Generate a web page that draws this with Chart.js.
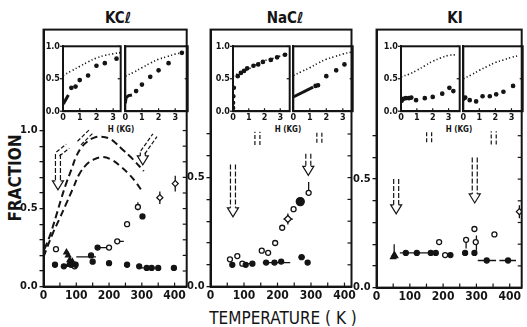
<!DOCTYPE html>
<html>
<head>
<meta charset="utf-8">
<script src="https://cdn.jsdelivr.net/npm/chart.js@4.4.1/dist/chart.umd.min.js"></script>
<style>
  body { margin: 0; background: #fff; }
  #lienzo { position: relative; width: 527px; height: 327px; overflow: hidden; background: #fff; }
  #lienzo canvas { position: absolute; }
  .rotulo {
    position: absolute; color: #141414; white-space: nowrap;
    font-family: 'DejaVu Sans Condensed', 'Liberation Sans Narrow', 'DejaVu Sans', sans-serif;
    transform: translate(-50%, -50%);
  }
  .titulo { font-size: 15px; font-weight: bold; }
  .campo { font-size: 8px; font-weight: bold; }
</style>
</head>
<body>
<div id="lienzo">
  <div class="rotulo titulo" style="left:118px; top:18px;">KCℓ</div>
  <div class="rotulo titulo" style="left:285px; top:18px;">NaCℓ</div>
  <div class="rotulo titulo" style="left:455px; top:18px;">KI</div>
  <div class="rotulo" style="left:15px; top:178px; font-size:17px; font-weight:bold; transform: translate(-50%,-50%) rotate(-90deg);">FRACTION</div>
  <div class="rotulo" style="left:283px; top:318px; font-size:17px;">TEMPERATURE ( K )</div>
  <div class="rotulo campo" style="left:121px; top:129px;">H (KG)</div>
  <div class="rotulo campo" style="left:288px; top:129px;">H (KG)</div>
  <div class="rotulo campo" style="left:459px; top:129px;">H (KG)</div>
</div>
<script>
const FUENTE = "'DejaVu Sans Condensed', 'Liberation Sans Narrow', 'DejaVu Sans', sans-serif";
const NEGRO = '#141414';

// ---- KCl: fracción vs temperatura ----
const kclCurvaSup = [[3,0.24],[20,0.33],[38,0.45],[55,0.57],[69,0.66],[85,0.75],[99,0.83],[115,0.89],[134,0.93],[155,0.955],[175,0.96],[200,0.95],[220,0.92],[240,0.88],[271,0.82],[306,0.74]];
const kclCurvaInf = [[0,0.19],[28,0.34],[50,0.44],[69,0.53],[90,0.63],[109,0.72],[130,0.78],[149,0.81],[180,0.83],[210,0.81],[235,0.77],[261,0.72],[285,0.66],[301,0.61]];
const kclLlenos = [[35,0.14],[62,0.13],[84,0.14],[98,0.14],[145,0.20],[150,0.16],[165,0.25],[200,0.15],[255,0.14],[292,0.13],[302,0.45],[315,0.12],[330,0.12],[350,0.12],[398,0.12]];
const kclAbiertos = [[38,0.24],[95,0.13],[200,0.25],[225,0.29],[255,0.40],[288,0.51]];
const kclTriangulos = [[70,0.22],[75,0.20],[80,0.17],[76,0.14],[88,0.16]];
const kclRombos = [[355,0.57],[402,0.66]];
const kclBarrasH = [[100,160,0.19],[160,200,0.25],[215,245,0.29],[295,340,0.12]];
const kclBarrasV = [[98,0.12,0.16],[288,0.49,0.54],[355,0.53,0.61],[402,0.61,0.71]];
const kclFlechas = [{ t: 44, arriba: 0.85, punta: 0.62 }, { t: 303, arriba: 0.86, punta: 0.78 }];
const kclConectores = [[44,0.85,74,0.90],[109,0.92,148,1.00],[303,0.86,340,0.97]];

// ---- NaCl ----
const naclLlenos = [[65,0.10],[105,0.10],[125,0.105],[166,0.11],[191,0.11],[211,0.115],[272,0.135],[290,0.11]];
const naclGrandes = [[268,0.39]];
const naclAbiertos = [[58,0.125],[80,0.14],[95,0.105],[153,0.165],[172,0.155],[193,0.20],[214,0.27],[248,0.355],[293,0.43]];
const naclRombos = [[231,0.31]];
const naclBarrasH = [[88,128,0.105],[156,238,0.11],[262,282,0.135],[218,246,0.31]];
const naclBarrasV = [[293,0.43,0.48],[231,0.285,0.335]];
const naclFlechas = [{ t: 67, arriba: 0.56, punta: 0.32 }, { t: 292, arriba: 0.61, punta: 0.51 }];
const naclConectores = [[140,0.65,140,0.71],[325,0.66,325,0.71]];

// ---- KI ----
const kiLlenos = [[88,0.16],[121,0.16],[163,0.16],[178,0.16],[222,0.15],[266,0.16],[294,0.16],[331,0.125],[395,0.125]];
const kiTriangulos = [[50,0.14],[53,0.15],[56,0.145]];
const kiAbiertos = [[206,0.15],[188,0.21],[269,0.22],[298,0.21],[294,0.27],[354,0.245]];
const kiRombos = [[429,0.35]];
const kiBarrasH = [[70,180,0.16],[304,359,0.125],[369,419,0.125]];
const kiBarrasV = [[53,0.15,0.20],[269,0.18,0.23],[300,0.17,0.24],[429,0.32,0.38]];
const kiFlechas = [{ t: 59, arriba: 0.50, punta: 0.34 }, { t: 295, arriba: 0.60, punta: 0.39 }];
const kiConectores = [[158,0.67,158,0.72],[352,0.66,352,0.72]];

// ---- Recuadros: fracción vs campo H (KG) ----
const campoTeoria = [0, 0.5, 1, 1.5, 2, 2.5, 3, 3.5];
const kclTeoriaIzq = [0.55, 0.62, 0.69, 0.76, 0.82, 0.86, 0.885, 0.905];
const kclTeoriaDer = [0.54, 0.60, 0.67, 0.74, 0.80, 0.84, 0.88, 0.90];
const naclTeoriaIzq = [0.54, 0.60, 0.65, 0.72, 0.78, 0.81, 0.85, 0.88];
const naclTeoriaDer = [0.55, 0.61, 0.67, 0.74, 0.80, 0.84, 0.88, 0.91];
const kiTeoriaIzq = [0.53, 0.57, 0.63, 0.70, 0.77, 0.82, 0.86, 0.87];
const kiTeoriaDer = [0.50, 0.56, 0.63, 0.69, 0.75, 0.79, 0.83, 0.86];

const kclPuntosIzq = [[0.5,0.36],[0.75,0.38],[1.0,0.48],[1.5,0.55],[2.0,0.70],[2.5,0.74],[3.2,0.81]];
const kclTramoIzq = [[0.02,0.11],[0.32,0.25]];
const kclPuntosDer = [[0.65,0.31],[1.0,0.41],[1.5,0.53],[2.0,0.63],[2.6,0.74],[3.4,0.90]];
const kclTramoDer = [[0.0,0.12],[0.05,0.21],[0.2,0.24],[0.4,0.25]];
const naclPuntosIzq = [[0,0.05],[0,0.13],[0.02,0.23],[0.05,0.36],[0.3,0.54],[0.5,0.59],[0.7,0.62],[0.9,0.66],[1.3,0.70],[1.6,0.72],[1.9,0.76],[2.4,0.79],[2.8,0.83],[3.3,0.87]];
const naclTramoDer = [[0.0,0.22],[1.2,0.37]];
const naclPuntosDer = [[1.35,0.39],[1.5,0.40],[2.0,0.54],[2.6,0.63],[3.1,0.72]];
const kiPuntosIzq = [[0.04,0.16],[0.15,0.19],[0.3,0.20],[0.5,0.20],[0.65,0.21],[0.95,0.17],[1.5,0.20],[2.0,0.22],[2.6,0.27],[3.05,0.36],[3.3,0.31]];
const kiPuntosDer = [[0.0,0.19],[0.12,0.21],[0.4,0.17],[0.8,0.15],[1.2,0.23],[1.65,0.23],[2.05,0.26],[2.5,0.30],[3.1,0.39]];

Chart.defaults.font.family = FUENTE;
Chart.defaults.color = NEGRO;

const aXY = pares => pares.map(p => ({ x: p[0], y: p[1] }));

function crearCanvas(ancho, alto) {
    const c = document.createElement('canvas');
    c.width = ancho;
    c.height = alto;
    document.getElementById('lienzo').appendChild(c);
    return c;
}

// Ajusta tamaño y posición del canvas para que el área del gráfico caiga en la caja
function encajar(chart, caja) {
    for (let i = 0; i < 3; i++) {
        const a = chart.chartArea;
        const dw = (caja.r - caja.l) - (a.right - a.left);
        const dh = (caja.b - caja.t) - (a.bottom - a.top);
        if (Math.abs(dw) < 0.5 && Math.abs(dh) < 0.5) break;
        chart.resize(Math.round(chart.width + dw), Math.round(chart.height + dh));
    }
    const a = chart.chartArea;
    const c = chart.canvas;
    c.style.width = chart.width + 'px';
    c.style.height = chart.height + 'px';
    c.style.left = Math.round(caja.l - a.left) + 'px';
    c.style.top = Math.round(caja.t - a.top) + 'px';
}

function linea(ctx, x1, y1, x2, y2) {
    ctx.beginPath();
    ctx.moveTo(x1, y1);
    ctx.lineTo(x2, y2);
    ctx.stroke();
}

// Marco completo, marcas interiores y (en los recuadros) rótulos del eje vertical
const marcoPlugin = {
    id: 'marco',
    afterDraw(chart, args, opts) {
        const { ctx, chartArea: a, scales } = chart;
        ctx.save();
        ctx.strokeStyle = NEGRO;
        ctx.fillStyle = NEGRO;
        ctx.lineWidth = opts.grosor || 2;
        ctx.strokeRect(a.left, a.top, a.right - a.left, a.bottom - a.top);
        ctx.lineWidth = 1.2;
        const largo = opts.largo || 4;
        scales.x.ticks.forEach(t => {
            const px = scales.x.getPixelForValue(t.value);
            linea(ctx, px, a.bottom, px, a.bottom - largo);
        });
        scales.y.ticks.forEach(t => {
            const py = scales.y.getPixelForValue(t.value);
            linea(ctx, a.right, py, a.right - largo, py);
        });
        if (opts.etiquetasY) {
            ctx.font = 'bold 9px ' + FUENTE;
            ctx.textAlign = 'right';
            ctx.textBaseline = 'middle';
            scales.y.ticks.forEach(t => {
                const py = scales.y.getPixelForValue(t.value);
                linea(ctx, a.left - 3, py, a.left, py);
                ctx.fillText(t.value.toFixed(1), a.left - 3, py);
            });
        }
        ctx.restore();
    }
};

// Flechas huecas con cuerpo doble y trazos de enlace hacia los recuadros
const flechasPlugin = {
    id: 'flechas',
    afterDatasetsDraw(chart, args, opts) {
        const { ctx, scales: { x: sx, y: sy } } = chart;
        const a = 2.5;
        ctx.save();
        ctx.strokeStyle = NEGRO;
        ctx.lineWidth = 1.2;
        (opts.flechas || []).forEach(f => {
            const x = sx.getPixelForValue(f.t);
            const yArriba = sy.getPixelForValue(f.arriba);
            const yPunta = sy.getPixelForValue(f.punta);
            const cabeza = Math.min(9, yPunta - yArriba);
            ctx.setLineDash([5, 2]);
            linea(ctx, x - a, yArriba, x - a, yPunta - cabeza);
            linea(ctx, x + a, yArriba, x + a, yPunta - cabeza);
            ctx.setLineDash([]);
            ctx.beginPath();
            ctx.moveTo(x - a, yPunta - cabeza);
            ctx.lineTo(x - a - 3, yPunta - cabeza);
            ctx.lineTo(x, yPunta);
            ctx.lineTo(x + a + 3, yPunta - cabeza);
            ctx.lineTo(x + a, yPunta - cabeza);
            ctx.stroke();
        });
        ctx.setLineDash([4, 2]);
        (opts.conectores || []).forEach(c => {
            const x1 = sx.getPixelForValue(c[0]), y1 = sy.getPixelForValue(c[1]);
            const x2 = sx.getPixelForValue(c[2]), y2 = sy.getPixelForValue(c[3]);
            const d = Math.hypot(x2 - x1, y2 - y1) || 1;
            const nx = -(y2 - y1) / d * a, ny = (x2 - x1) / d * a;
            linea(ctx, x1 + nx, y1 + ny, x2 + nx, y2 + ny);
            linea(ctx, x1 - nx, y1 - ny, x2 - nx, y2 - ny);
        });
        ctx.restore();
    }
};

// Conjuntos de datos reutilizables
function puntos(pares, estilo, relleno, radio) {
    return {
        type: 'scatter', data: aXY(pares), pointStyle: estilo, pointRadius: radio || 2.5,
        backgroundColor: relleno ? NEGRO : '#fff', borderColor: NEGRO, borderWidth: 1.3, order: 0
    };
}

function barras(horizontales, verticales) {
    const datos = [];
    horizontales.forEach(b => { datos.push({ x: b[0], y: b[2] }, { x: b[1], y: b[2] }, { x: b[1], y: null }); });
    verticales.forEach(b => { datos.push({ x: b[0], y: b[1] }, { x: b[0], y: b[2] }, { x: b[0], y: null }); });
    return { type: 'line', data: datos, showLine: true, spanGaps: false, borderColor: NEGRO, borderWidth: 1.3, pointRadius: 0, order: 1 };
}

function curvaDiscontinua(pares) {
    return { type: 'line', data: aXY(pares), showLine: true, borderColor: NEGRO, borderWidth: 2, borderDash: [7, 4], tension: 0.4, pointRadius: 0, order: 2 };
}

function opcionesBase(padIzq) {
    return {
        responsive: false,
        maintainAspectRatio: false,
        devicePixelRatio: 1,
        animation: false,
        layout: { padding: { top: 2, right: 2, left: padIzq, bottom: 0 } }
    };
}

function crearPanel(caja, maxT, maxF, topeMarcas, datasets, flechas, conectores) {
    const canvas = crearCanvas(caja.r - caja.l + 45, caja.b - caja.t + 25);
    const opciones = opcionesBase(0);
    opciones.plugins = {
        legend: { display: false },
        tooltip: { enabled: false },
        marco: { grosor: 2, largo: 4 },
        flechas: { flechas, conectores }
    };
    opciones.scales = {
        x: {
            type: 'linear', display: true, min: 0, max: maxT,
            ticks: {
                stepSize: 50, includeBounds: false, autoSkip: false, maxRotation: 0, padding: 2,
                font: { size: 12, weight: 'bold' },
                callback: v => (v % 100 === 0 ? String(v) : '')
            },
            grid: { drawOnChartArea: false, drawTicks: false },
            border: { display: true, color: NEGRO, width: 2 }
        },
        y: {
            type: 'linear', display: true, min: 0, max: maxF,
            afterBuildTicks: s => { s.ticks = s.ticks.filter(t => t.value <= topeMarcas + 1e-6); },
            ticks: {
                stepSize: 0.1, includeBounds: false, autoSkip: false, padding: 2,
                font: { size: 11, weight: 'bold' },
                callback: v => ([0, 5, 10].includes(Math.round(v * 10)) ? v.toFixed(1) : '')
            },
            grid: { drawOnChartArea: false, drawTicks: true, tickLength: 4, color: NEGRO, lineWidth: 1.3 },
            border: { display: true, color: NEGRO, width: 2 }
        }
    };
    const chart = new Chart(canvas, { type: 'scatter', data: { datasets }, options: opciones, plugins: [marcoPlugin, flechasPlugin] });
    encajar(chart, caja);
    return chart;
}

function crearRecuadro(caja, maxH, conEtiquetas, teoria, datasets) {
    const canvas = crearCanvas(caja.r - caja.l + 24, caja.b - caja.t + 18);
    const curva = {
        type: 'line', data: campoTeoria.map((h, i) => ({ x: h, y: teoria[i] })), showLine: true,
        borderColor: NEGRO, borderWidth: 1.6, borderDash: [1.2, 2.4], tension: 0.4, pointRadius: 0, order: 2
    };
    const opciones = opcionesBase(conEtiquetas ? 20 : 0);
    opciones.plugins = {
        legend: { display: false },
        tooltip: { enabled: false },
        marco: { grosor: 2, largo: 3, etiquetasY: conEtiquetas }
    };
    opciones.scales = {
        x: {
            type: 'linear', display: true, min: 0, max: maxH,
            ticks: { stepSize: 1, includeBounds: false, autoSkip: false, maxRotation: 0, padding: 1, font: { size: 9, weight: 'bold' } },
            grid: { drawOnChartArea: false, drawTicks: false },
            border: { display: true, color: NEGRO, width: 2 }
        },
        y: {
            type: 'linear', display: true, min: 0, max: 1,
            ticks: { stepSize: 0.5, display: false },
            grid: { drawOnChartArea: false, drawTicks: false },
            border: { display: true, color: NEGRO, width: 2 }
        }
    };
    const chart = new Chart(canvas, { type: 'scatter', data: { datasets: [curva].concat(datasets) }, options: opciones, plugins: [marcoPlugin] });
    encajar(chart, caja);
    return chart;
}

function puntoChico(pares) {
    return puntos(pares, 'circle', true, 1.7);
}

function tramo(pares) {
    return { type: 'line', data: aXY(pares), showLine: true, borderColor: NEGRO, borderWidth: 3, pointRadius: 0, order: 1 };
}

// Paneles principales
crearPanel({ l: 44, t: 30, r: 187, b: 287 }, 437, 1.647, 1.0, [
    curvaDiscontinua(kclCurvaSup),
    curvaDiscontinua(kclCurvaInf),
    barras(kclBarrasH, kclBarrasV),
    puntos(kclLlenos, 'circle', true),
    puntos(kclAbiertos, 'circle', false),
    puntos(kclTriangulos, 'triangle', true, 3),
    puntos(kclRombos, 'rectRot', false, 3)
], kclFlechas, kclConectores);

crearPanel({ l: 211, t: 30, r: 352, b: 287 }, 421, 1.179, 0.7, [
    barras(naclBarrasH, naclBarrasV),
    puntos(naclLlenos, 'circle', true),
    puntos(naclGrandes, 'circle', true, 4),
    puntos(naclAbiertos, 'circle', false),
    puntos(naclRombos, 'rectRot', false, 3.5)
], naclFlechas, naclConectores);

crearPanel({ l: 377, t: 30, r: 522, b: 288 }, 436, 1.189, 0.7, [
    barras(kiBarrasH, kiBarrasV),
    puntos(kiLlenos, 'circle', true),
    puntos(kiTriangulos, 'triangle', true, 3),
    puntos(kiAbiertos, 'circle', false),
    puntos(kiRombos, 'rectRot', false, 3)
], kiFlechas, kiConectores);

// Recuadros de campo magnético
crearRecuadro({ l: 63, t: 46, r: 121, b: 111 }, 3.45, true, kclTeoriaIzq, [puntoChico(kclPuntosIzq), tramo(kclTramoIzq)]);
crearRecuadro({ l: 125, t: 46, r: 187, b: 111 }, 3.75, false, kclTeoriaDer, [puntoChico(kclPuntosDer), tramo(kclTramoDer)]);
crearRecuadro({ l: 233, t: 46, r: 290, b: 111 }, 3.6, true, naclTeoriaIzq, [puntoChico(naclPuntosIzq)]);
crearRecuadro({ l: 293, t: 46, r: 352, b: 111 }, 3.6, false, naclTeoriaDer, [puntoChico(naclPuntosDer), tramo(naclTramoDer)]);
crearRecuadro({ l: 401, t: 46, r: 460, b: 111 }, 3.7, true, kiTeoriaIzq, [puntoChico(kiPuntosIzq)]);
crearRecuadro({ l: 463, t: 46, r: 522, b: 111 }, 3.7, false, kiTeoriaDer, [puntoChico(kiPuntosDer)]);
</script>
</body>
</html>
